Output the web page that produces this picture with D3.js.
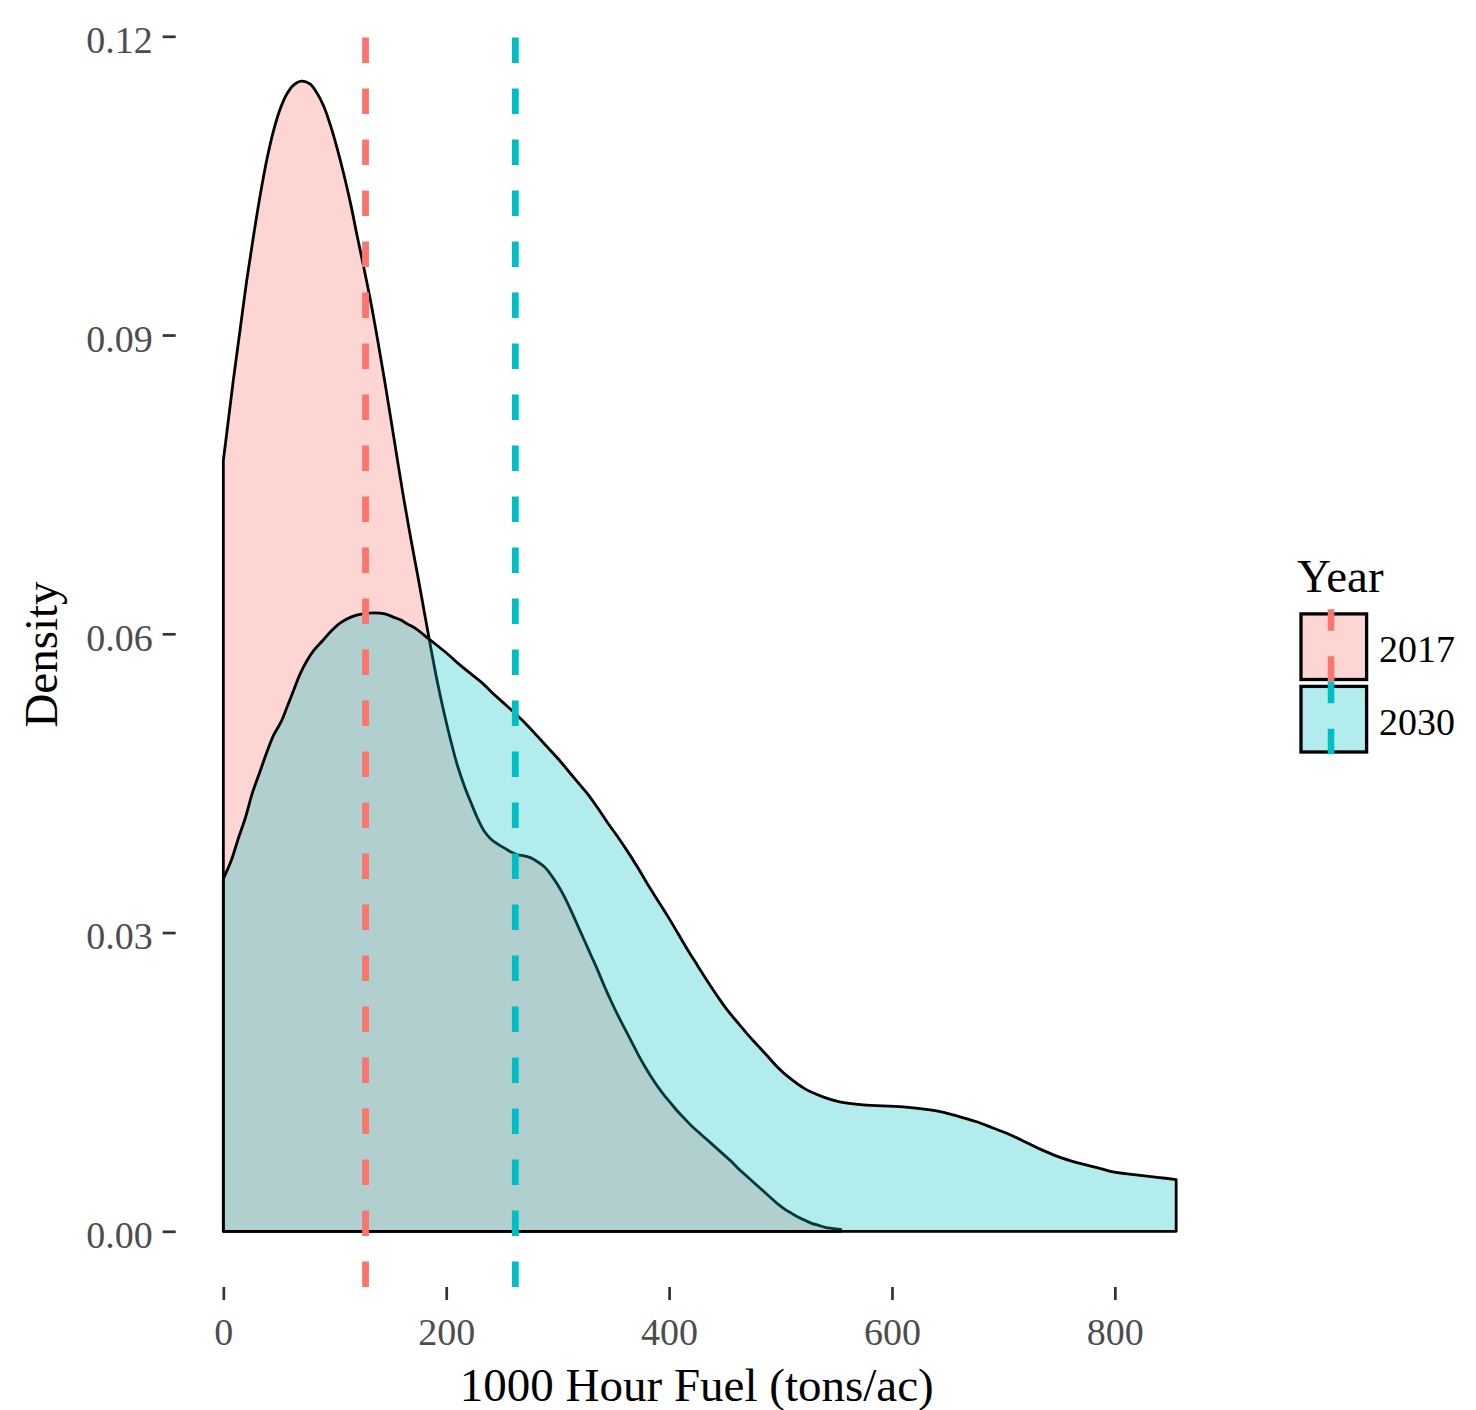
<!DOCTYPE html>
<html>
<head>
<meta charset="utf-8">
<script src="https://cdn.jsdelivr.net/npm/d3@7"></script>
<style>
  html, body { margin: 0; padding: 0; background: #ffffff; }
  svg { display: block; }
  text { font-family: "Liberation Serif", "Times New Roman", serif; }
</style>
</head>
<body>
<svg id="chart" width="1476" height="1410"></svg>
<script>
// ---------------- data ----------------
const years = ["2017", "2030"];
const fillColors = ["#F8766D", "#00BFC4"];

const x2017 = [0, 4, 9, 15, 21, 27, 33, 39, 45, 51, 57, 63, 70, 78, 84, 90, 96, 102, 108, 114, 120, 126, 132, 138, 144, 150, 156, 162, 168, 174, 180, 186, 192, 198, 204, 210, 216, 222, 228, 234, 240, 246, 252, 258, 264, 270, 276, 282, 288, 294, 300, 306, 312, 318, 324, 330, 336, 342, 348, 354, 360, 366, 372, 378, 384, 390, 396, 402, 408, 414, 420, 426, 432, 438, 444, 450, 456, 462, 468, 474, 480, 486, 492, 498, 504, 510, 516, 522, 528, 534, 540, 546, 554];
const d2017 = [0.0774, 0.0810, 0.0855, 0.0905, 0.0955, 0.0999, 0.1040, 0.1076, 0.1105, 0.1127, 0.1142, 0.1151, 0.1155, 0.1152, 0.1143, 0.1130, 0.1111, 0.1088, 0.1062, 0.1033, 0.1000, 0.0968, 0.0935, 0.0898, 0.0859, 0.0818, 0.0776, 0.0735, 0.0697, 0.0661, 0.0624, 0.0587, 0.0552, 0.0521, 0.0493, 0.0468, 0.0448, 0.0431, 0.0415, 0.0402, 0.0394, 0.0389, 0.0385, 0.0381, 0.0378, 0.0377, 0.0375, 0.0371, 0.0366, 0.0358, 0.0348, 0.0336, 0.0322, 0.0307, 0.0292, 0.0277, 0.0262, 0.0246, 0.0231, 0.0217, 0.0204, 0.0191, 0.0178, 0.0166, 0.0155, 0.0145, 0.0136, 0.0128, 0.0120, 0.0113, 0.0106, 0.0100, 0.0094, 0.0088, 0.0082, 0.0076, 0.0070, 0.0063, 0.0057, 0.0051, 0.0045, 0.0039, 0.0033, 0.0027, 0.0022, 0.0018, 0.0014, 0.0011, 0.0008, 0.0006, 0.0004, 0.0003, 0.0002];

const x2030 = [0, 7, 13, 20, 26, 33, 39, 45, 52, 57, 63, 69, 75, 81, 89, 97, 105, 115, 125, 135, 145, 152, 159, 165, 173, 182, 191, 201, 212, 223, 232, 242, 254, 272, 282, 291, 300, 309, 318, 327, 336, 345, 354, 363, 372, 381, 390, 399, 408, 417, 426, 435, 444, 453, 462, 471, 480, 489, 498, 507, 522, 538, 553, 574, 610, 640, 658, 676, 690, 706, 721, 734, 749, 766, 784, 797, 817, 840, 855];
const d2030 = [0.0354, 0.0372, 0.0393, 0.0416, 0.0440, 0.0462, 0.0481, 0.0498, 0.0512, 0.0526, 0.0543, 0.0560, 0.0573, 0.0583, 0.0593, 0.0603, 0.0611, 0.0617, 0.0620, 0.0621, 0.0620, 0.0617, 0.0614, 0.0610, 0.0605, 0.0597, 0.0589, 0.0580, 0.0569, 0.0559, 0.0551, 0.0540, 0.0528, 0.0509, 0.0497, 0.0486, 0.0475, 0.0463, 0.0451, 0.0439, 0.0425, 0.0410, 0.0396, 0.0381, 0.0365, 0.0348, 0.0332, 0.0316, 0.0299, 0.0282, 0.0266, 0.0250, 0.0235, 0.0221, 0.0209, 0.0197, 0.0186, 0.0175, 0.0164, 0.0155, 0.0143, 0.0135, 0.0130, 0.0127, 0.0125, 0.0121, 0.0116, 0.0110, 0.0104, 0.0097, 0.0089, 0.0082, 0.0075, 0.0069, 0.0064, 0.0060, 0.0057, 0.0054, 0.0052];

const meanValues = [127.6, 262];   // dashed vertical lines (2017, 2030)

const xTicks = [0, 200, 400, 600, 800];
const yTicks = [0.00, 0.03, 0.06, 0.09, 0.12];

const xTitle = "1000 Hour Fuel (tons/ac)";
const yTitle = "Density";
const legendTitle = "Year";

// ---------------- layout ----------------
const panel = { left: 175.7, right: 1223.8, top: 22, bottom: 1287 };
const fontMain = 38, fontTitle = 47;

const xMaxData = d3.max([d3.max(x2017), d3.max(x2030)]);
const xPad = 0.05 * xMaxData;
const x = d3.scaleLinear().domain([-xPad, xMaxData + xPad]).range([panel.left, panel.right]);
const y = d3.scaleLinear().domain([0, 0.12]).range([1231.3, 36.3]);

const svg = d3.select("#chart");
svg.append("rect").attr("width", 1476).attr("height", 1410).attr("fill", "#ffffff");

const series = [
  { key: years[0], color: fillColors[0], pts: x2017.map((v, i) => [v, d2017[i]]) },
  { key: years[1], color: fillColors[1], pts: x2030.map((v, i) => [v, d2030[i]]) }
];

const area = d3.area()
  .x(d => x(d[0]))
  .y0(y(0))
  .y1(d => y(d[1]))
  .curve(d3.curveCatmullRom.alpha(0.5));

const gArea = svg.append("g");
series.forEach(s => {
  gArea.append("path")
    .attr("d", area(s.pts))
    .attr("fill", s.color)
    .attr("fill-opacity", 0.3)
    .attr("stroke", "#000000")
    .attr("stroke-width", 2.8)
    .attr("stroke-linejoin", "round");
});

// dashed mean lines (drawn bottom->top so the dash pattern starts at the panel bottom)
const dash = 25.5;
series.forEach((s, i) => {
  svg.append("line")
    .attr("x1", x(meanValues[i])).attr("x2", x(meanValues[i]))
    .attr("y1", panel.bottom).attr("y2", panel.top)
    .attr("stroke", s.color)
    .attr("stroke-width", 6.8)
    .attr("stroke-dasharray", `${dash} ${dash}`);
});

// ---------------- axes ----------------
const yAxis = d3.axisLeft(y).tickValues(yTicks).tickFormat(d3.format(".2f")).tickSize(13).tickPadding(10);
const gy = svg.append("g").attr("transform", `translate(${panel.left},0)`).call(yAxis);
gy.select(".domain").remove();
gy.selectAll(".tick line").attr("stroke", "#333333").attr("stroke-width", 2.7);
gy.selectAll(".tick text").attr("fill", "#4D4D4D").attr("font-size", fontMain)
  .attr("font-family", "Liberation Serif").attr("dy", "0.43em");

const xAxis = d3.axisBottom(x).tickValues(xTicks).tickFormat(d3.format("d")).tickSize(13).tickPadding(18);
const gx = svg.append("g").attr("transform", `translate(0,${panel.bottom})`).call(xAxis);
gx.select(".domain").remove();
gx.selectAll(".tick line").attr("stroke", "#333333").attr("stroke-width", 2.7);
gx.selectAll(".tick text").attr("fill", "#4D4D4D").attr("font-size", fontMain)
  .attr("font-family", "Liberation Serif");

// axis titles
svg.append("text")
  .attr("x", (panel.left + panel.right) / 2 - 3)
  .attr("y", 1401)
  .attr("text-anchor", "middle")
  .attr("font-size", fontTitle)
  .attr("fill", "#000000")
  .text(xTitle);

svg.append("text")
  .attr("transform", `translate(57,${(panel.top + panel.bottom) / 2}) rotate(-90)`)
  .attr("text-anchor", "middle")
  .attr("font-size", fontTitle)
  .attr("fill", "#000000")
  .text(yTitle);

// ---------------- legend ----------------
const leg = svg.append("g");
leg.append("text")
  .attr("x", 1297).attr("y", 592)
  .attr("font-size", fontTitle)
  .attr("fill", "#000000")
  .text(legendTitle);

const keyTop = 609.3, keyH = 72.5, keyX = 1331;
series.forEach((s, i) => {
  const top = keyTop + i * keyH;
  leg.append("rect")
    .attr("x", 1301).attr("y", top + 4.6)
    .attr("width", 65.6).attr("height", 65.6)
    .attr("fill", s.color).attr("fill-opacity", 0.3)
    .attr("stroke", "#000000").attr("stroke-width", 3.3);
  leg.append("line")
    .attr("x1", keyX).attr("x2", keyX)
    .attr("y1", top + keyH).attr("y2", top)
    .attr("stroke", s.color).attr("stroke-width", 6.5)
    .attr("stroke-dasharray", `${dash} ${dash}`);
  leg.append("text")
    .attr("x", 1379).attr("y", top + 53)
    .attr("font-size", fontMain)
    .attr("fill", "#000000")
    .text(s.key);
});
</script>
</body>
</html>
